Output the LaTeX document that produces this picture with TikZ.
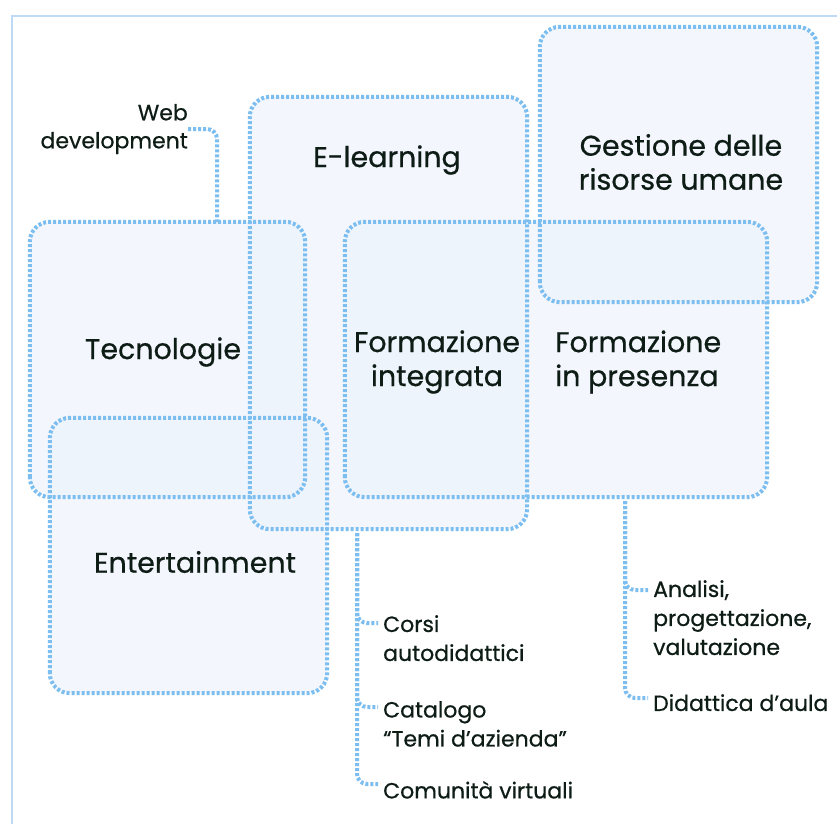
\documentclass[tikz,border=0pt]{standalone}
\usepackage{fontspec}
\setmainfont{Poppins}[UprightFeatures={FakeBold=0.6}]
\definecolor{punti}{RGB}{125,190,240}
\definecolor{sfondo}{RGB}{236,243,252}
\definecolor{cornice}{RGB}{190,218,245}
\definecolor{testo}{RGB}{14,28,22}
\begin{document}
\begin{tikzpicture}[x=1pt, y=-1pt,
    box/.style={rectangle, rounded corners=20pt, fill=sfondo, fill opacity=0.6, inner sep=0pt},
    rim/.style={draw=punti, line width=4pt, dash pattern=on 3pt off 2pt, rounded corners=20pt},
    link/.style={draw=punti, line width=4pt, dash pattern=on 3pt off 2pt, rounded corners=10pt},
    big/.style={text=testo, font=\fontsize{28.5}{34}\selectfont, align=center, inner sep=0pt},
    small/.style={text=testo, font=\fontsize{22}{29}\selectfont, align=left, anchor=north west, inner ysep=0pt, inner xsep=5pt}]
    \useasboundingbox (0,0) rectangle (837,823);
    \fill[white] (0,0) rectangle (837,823);
    \draw[cornice, line width=1.5pt] (12,16) rectangle (900,900);

    % riquadri
    \node (1) at (388.5,313) [box, minimum width=277pt, minimum height=432pt] {};
    \node (2) at (678.5,164.5) [box, minimum width=277pt, minimum height=275pt] {};
    \node (3) at (167.5,359.5) [box, minimum width=275pt, minimum height=275pt] {};
    \node (4) at (556,359.5) [box, minimum width=422pt, minimum height=275pt] {};
    \node (5) at (188.5,555.5) [box, minimum width=277pt, minimum height=275pt] {};
    \foreach \n in {1,...,5}
        \draw[rim] (\n.south west) rectangle (\n.north east);

    % testi
    \node (6) at (188,129) [text=testo, font=\fontsize{22}{28}\selectfont, align=right, anchor=east, inner sep=0pt] {Web\\development};
    \node (7) at (387,160) [big] {E-learning};
    \node (8) at (681,162) [big] {Gestione delle\\risorse umane};
    \node (9) at (163,352) [big] {Tecnologie};
    \node (10) at (437,362) [big] {Formazione\\integrata};
    \node (11) at (555,362) [big, align=left, anchor=west] {Formazione\\in presenza};
    \node (12) at (195,562) [big] {Entertainment};
    \node (13) at (378,615) [small] {Corsi\\autodidattici};
    \node (14) at (378,701) [small] {Catalogo\\“Temi d’azienda”};
    \node (15) at (378,781) [small] {Comunità virtuali};
    \node (16) at (648,580) [small] {Analisi,\\progettazione,\\valutazione};
    \node (17) at (648,694) [small] {Didattica d’aula};

    % collegamenti
    \coordinate (c1) at (217,222);
    \coordinate (c2) at (357,533);
    \coordinate (c3) at (625,501);
    \draw[link] (6.east) -| (c1);
    \draw[link] (c2) |- ([yshift=-8pt]13.north west);
    \draw[link] (c2) |- ([yshift=-6pt]14.north west);
    \draw[link] (c2) |- ([yshift=-3pt]15.north west);
    \draw[link] (c3) |- ([yshift=-10pt]16.north west);
    \draw[link] (c3) |- ([yshift=-4pt]17.north west);
\end{tikzpicture}
\end{document}
